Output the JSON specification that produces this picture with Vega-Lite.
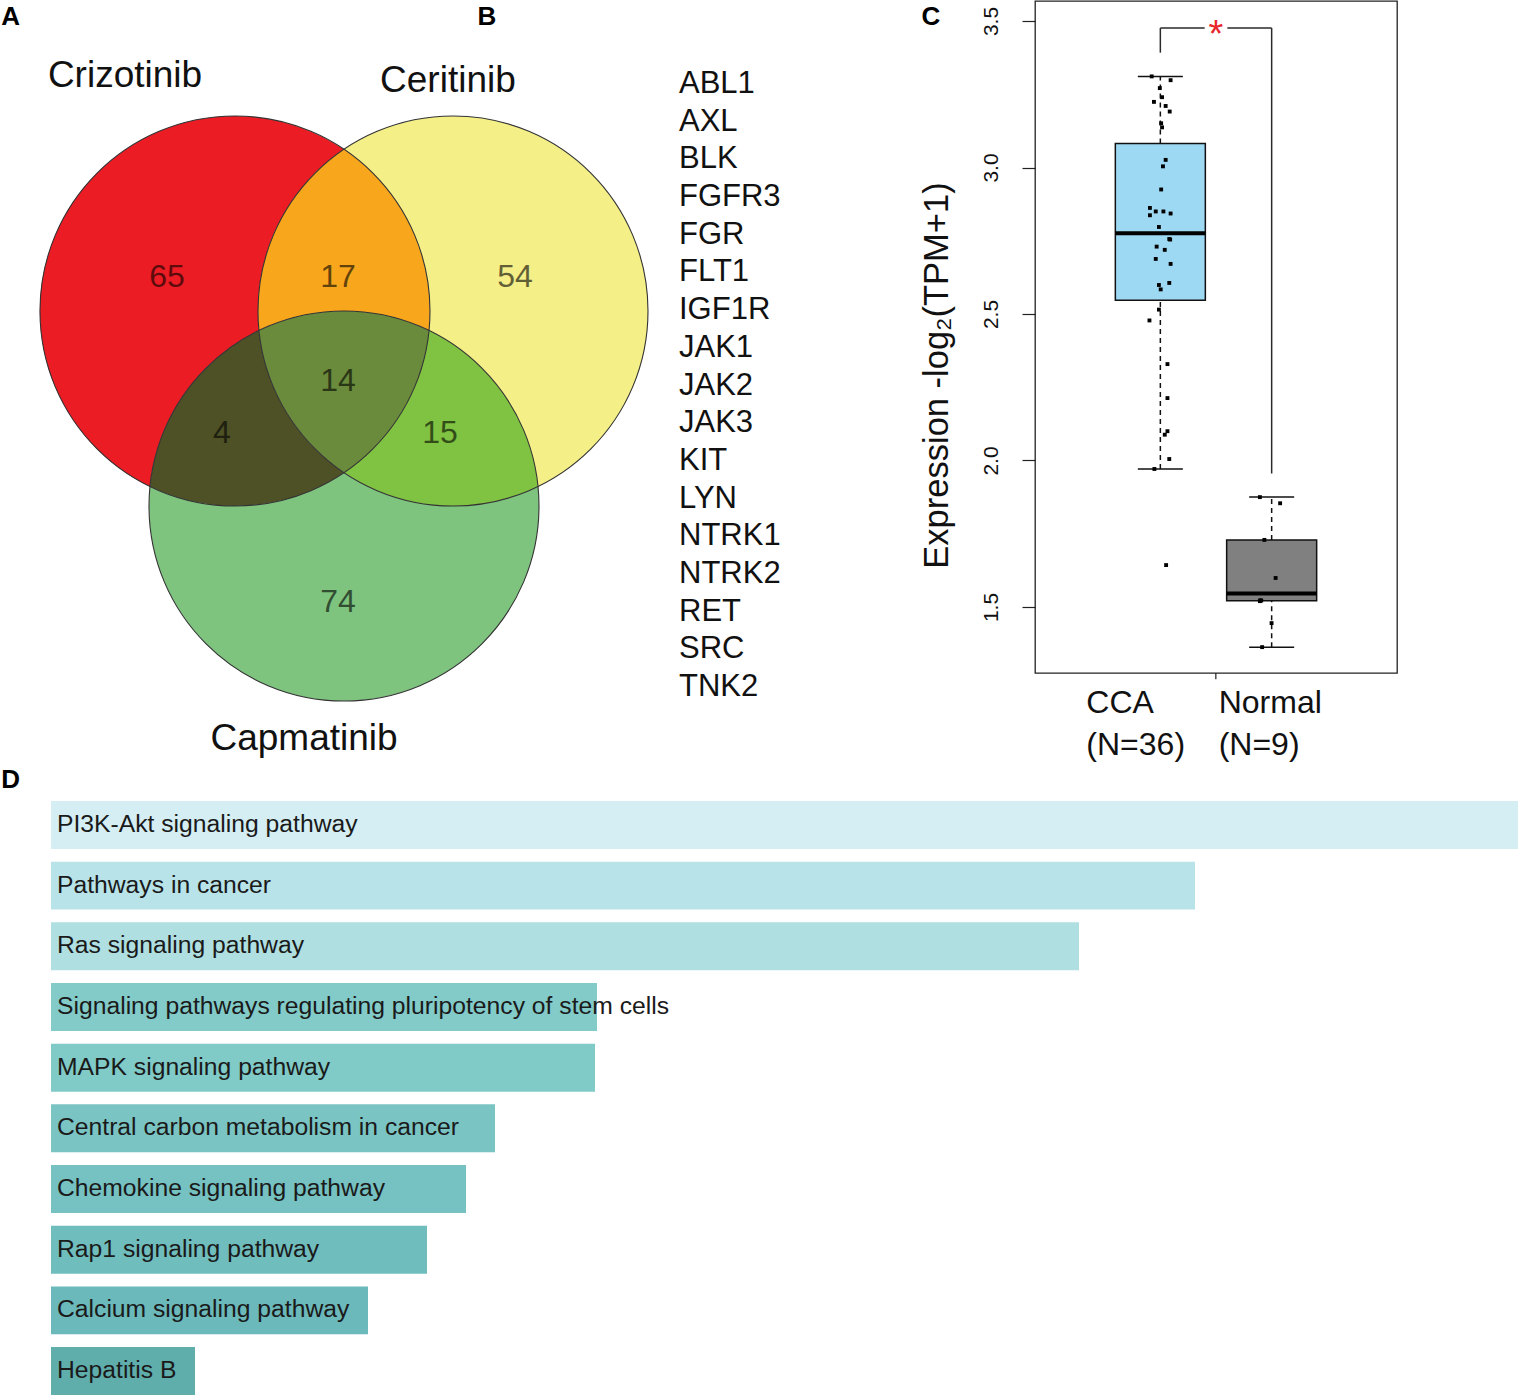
{
  "$schema": "https://vega.github.io/schema/vega-lite/v6.json",
  "background": "white",
  "padding": 0,
  "autosize": {"type": "pad"},
  "bounds": "full",
  "spacing": 7,
  "resolve": {"scale": {"color": "independent", "shape": "independent"}},
  "config": {"font": "Liberation Sans", "view": {"stroke": null}},
  "datasets": {
    "venn_regions": [
      {"region": "Crizotinib only", "count": 65, "lx": -0.908, "ly": 0.174},
      {"region": "Ceritinib only", "count": 54, "lx": 0.877, "ly": 0.174},
      {"region": "Capmatinib only", "count": 74, "lx": -0.031, "ly": -1.492},
      {"region": "Crizotinib & Ceritinib", "count": 17, "lx": -0.031, "ly": 0.174},
      {"region": "Crizotinib & Capmatinib", "count": 4, "lx": -0.626, "ly": -0.626},
      {"region": "Ceritinib & Capmatinib", "count": 15, "lx": 0.492, "ly": -0.626},
      {"region": "All three", "count": 14, "lx": -0.031, "ly": -0.359}
    ],
    "venn_sets": [
      {"set": "Crizotinib", "lx": -1.123, "ly": 1.205},
      {"set": "Ceritinib", "lx": 0.533, "ly": 1.179},
      {"set": "Capmatinib", "lx": -0.205, "ly": -2.195}
    ],
    "letters_abd": [
      {"letter": "A", "lx": -1.71, "ly": 1.4667},
      {"letter": "B", "lx": 0.733, "ly": 1.4667},
      {"letter": "D", "lx": -1.71, "ly": -2.4462}
    ],
    "letters_c": [
      {"letter": "C", "lx": 0.7079, "ly": -0.5654}
    ],
    "genes": [
      {"gene": "ABL1", "rank": 1}, {"gene": "AXL", "rank": 2}, {"gene": "BLK", "rank": 3},
      {"gene": "FGFR3", "rank": 4}, {"gene": "FGR", "rank": 5}, {"gene": "FLT1", "rank": 6},
      {"gene": "IGF1R", "rank": 7}, {"gene": "JAK1", "rank": 8}, {"gene": "JAK2", "rank": 9},
      {"gene": "JAK3", "rank": 10}, {"gene": "KIT", "rank": 11}, {"gene": "LYN", "rank": 12},
      {"gene": "NTRK1", "rank": 13}, {"gene": "NTRK2", "rank": 14}, {"gene": "RET", "rank": 15},
      {"gene": "SRC", "rank": 16}, {"gene": "TNK2", "rank": 17}
    ],
    "box_summary": [
      {"group": "CCA", "lower": 1.971, "q1": 2.547, "median": 2.776, "q3": 3.082, "upper": 3.311},
      {"group": "Normal", "lower": 1.363, "q1": 1.521, "median": 1.546, "q3": 1.729, "upper": 1.875}
    ],
    "box_points": [
      {"group": "CCA", "value": 3.311, "jitter": -0.19},
      {"group": "CCA", "value": 3.298, "jitter": 0.23},
      {"group": "CCA", "value": 3.271, "jitter": -0.01},
      {"group": "CCA", "value": 3.240, "jitter": 0.04},
      {"group": "CCA", "value": 3.224, "jitter": -0.14},
      {"group": "CCA", "value": 3.210, "jitter": 0.12},
      {"group": "CCA", "value": 3.191, "jitter": 0.21},
      {"group": "CCA", "value": 3.151, "jitter": 0.02},
      {"group": "CCA", "value": 3.137, "jitter": 0.04},
      {"group": "CCA", "value": 3.026, "jitter": 0.12},
      {"group": "CCA", "value": 3.004, "jitter": 0.06},
      {"group": "CCA", "value": 2.925, "jitter": 0.02},
      {"group": "CCA", "value": 2.862, "jitter": -0.23},
      {"group": "CCA", "value": 2.850, "jitter": -0.10},
      {"group": "CCA", "value": 2.850, "jitter": 0.07},
      {"group": "CCA", "value": 2.843, "jitter": 0.23},
      {"group": "CCA", "value": 2.837, "jitter": -0.23},
      {"group": "CCA", "value": 2.797, "jitter": -0.03},
      {"group": "CCA", "value": 2.756, "jitter": 0.20},
      {"group": "CCA", "value": 2.754, "jitter": 0.22},
      {"group": "CCA", "value": 2.730, "jitter": -0.08},
      {"group": "CCA", "value": 2.719, "jitter": 0.10},
      {"group": "CCA", "value": 2.688, "jitter": -0.10},
      {"group": "CCA", "value": 2.671, "jitter": 0.23},
      {"group": "CCA", "value": 2.606, "jitter": 0.20},
      {"group": "CCA", "value": 2.599, "jitter": -0.03},
      {"group": "CCA", "value": 2.584, "jitter": 0.01},
      {"group": "CCA", "value": 2.515, "jitter": -0.03},
      {"group": "CCA", "value": 2.478, "jitter": -0.24},
      {"group": "CCA", "value": 2.329, "jitter": 0.16},
      {"group": "CCA", "value": 2.213, "jitter": 0.16},
      {"group": "CCA", "value": 2.100, "jitter": 0.16},
      {"group": "CCA", "value": 2.088, "jitter": 0.10},
      {"group": "CCA", "value": 2.005, "jitter": 0.20},
      {"group": "CCA", "value": 1.971, "jitter": -0.13},
      {"group": "CCA", "value": 1.643, "jitter": 0.13},
      {"group": "Normal", "value": 1.875, "jitter": -0.26},
      {"group": "Normal", "value": 1.854, "jitter": 0.19},
      {"group": "Normal", "value": 1.729, "jitter": -0.16},
      {"group": "Normal", "value": 1.599, "jitter": 0.09},
      {"group": "Normal", "value": 1.522, "jitter": -0.23},
      {"group": "Normal", "value": 1.520, "jitter": -0.26},
      {"group": "Normal", "value": 1.523, "jitter": -0.25},
      {"group": "Normal", "value": 1.445, "jitter": 0.0},
      {"group": "Normal", "value": 1.363, "jitter": -0.21}
    ],
    "bracket": [
      {"from": "CCA", "to": "Normal", "top": 3.476, "fromEnd": 3.392, "toEnd": 1.956, "label": "*"}
    ],
    "pathways": [
      {"pathway": "PI3K-Akt signaling pathway", "score": 14.67},
      {"pathway": "Pathways in cancer", "score": 11.44},
      {"pathway": "Ras signaling pathway", "score": 10.28},
      {"pathway": "Signaling pathways regulating pluripotency of stem cells", "score": 5.46},
      {"pathway": "MAPK signaling pathway", "score": 5.44},
      {"pathway": "Central carbon metabolism in cancer", "score": 4.44},
      {"pathway": "Chemokine signaling pathway", "score": 4.15},
      {"pathway": "Rap1 signaling pathway", "score": 3.76},
      {"pathway": "Calcium signaling pathway", "score": 3.17},
      {"pathway": "Hepatitis B", "score": 1.44}
    ]
  },
  "vconcat": [
    {
      "bounds": "flush",
      "spacing": 0,
      "resolve": {"scale": {"color": "independent", "shape": "independent"}},
      "hconcat": [
        {
          "width": 679,
          "height": 790,
          "view": {"stroke": null},
          "resolve": {"scale": {"shape": "independent", "color": "independent"}},
          "layer": [
            {
              "data": {"name": "venn_regions"},
              "mark": {"type": "point", "filled": true, "opacity": 1, "size": 152100, "strokeWidth": 0},
              "encoding": {
                "x": {"datum": 0, "type": "quantitative", "scale": {"domain": [-1.7641, 1.718], "nice": false, "zero": false}, "axis": null},
                "y": {"datum": 0, "type": "quantitative", "scale": {"domain": [-2.4615, 1.5897], "nice": false, "zero": false}, "axis": null},
                "shape": {"field": "region", "type": "nominal", "legend": null, "scale": {
                  "domain": ["Crizotinib only", "Ceritinib only", "Capmatinib only", "Crizotinib & Ceritinib", "Crizotinib & Capmatinib", "Ceritinib & Capmatinib", "All three"],
                  "range": [
                    "M 0 -0.829 A 1 1 0 1 0 -0.995 0.9 A 1 1 0 0 1 -0.436 0.1 A 1 1 0 0 1 0 -0.829 Z",
                    "M 0 -0.829 A 1 1 0 1 1 0.995 0.9 A 1 1 0 0 0 0.436 0.1 A 1 1 0 0 0 0 -0.829 Z",
                    "M -0.995 0.9 A 1 1 0 1 0 0.995 0.9 A 1 1 0 0 1 0 0.829 A 1 1 0 0 1 -0.995 0.9 Z",
                    "M 0 -0.829 A 1 1 0 0 1 0.436 0.1 A 1 1 0 0 0 -0.436 0.1 A 1 1 0 0 1 0 -0.829 Z",
                    "M -0.995 0.9 A 1 1 0 0 1 -0.436 0.1 A 1 1 0 0 0 0 0.829 A 1 1 0 0 1 -0.995 0.9 Z",
                    "M 0.995 0.9 A 1 1 0 0 0 0.436 0.1 A 1 1 0 0 1 0 0.829 A 1 1 0 0 0 0.995 0.9 Z",
                    "M -0.436 0.1 A 1 1 0 0 1 0.436 0.1 A 1 1 0 0 1 0 0.829 A 1 1 0 0 1 -0.436 0.1 Z"
                  ]}},
                "color": {"field": "region", "type": "nominal", "legend": null, "scale": {
                  "domain": ["Crizotinib only", "Ceritinib only", "Capmatinib only", "Crizotinib & Ceritinib", "Crizotinib & Capmatinib", "Ceritinib & Capmatinib", "All three"],
                  "range": ["#ec1c24", "#f5ef88", "#7ec47f", "#f8a71c", "#4e5126", "#80c241", "#6b8b3c"]}}
              }
            },
            {
              "data": {"name": "venn_sets"},
              "mark": {"type": "point", "filled": false, "opacity": 1, "size": 152100, "stroke": "#333333", "strokeWidth": 1.1},
              "encoding": {
                "x": {"datum": 0, "type": "quantitative", "scale": {"domain": [-1.7641, 1.718], "nice": false, "zero": false}, "axis": null},
                "y": {"datum": 0, "type": "quantitative", "scale": {"domain": [-2.4615, 1.5897], "nice": false, "zero": false}, "axis": null},
                "shape": {"field": "set", "type": "nominal", "legend": null, "scale": {
                  "domain": ["Crizotinib", "Ceritinib", "Capmatinib"],
                  "range": [
                    "M -1.559 0 A 1 1 0 1 1 0.441 0 A 1 1 0 1 1 -1.559 0 Z",
                    "M -0.441 0 A 1 1 0 1 1 1.559 0 A 1 1 0 1 1 -0.441 0 Z",
                    "M -1 1 A 1 1 0 1 1 1 1 A 1 1 0 1 1 -1 1 Z"
                  ]}}
              }
            },
            {
              "data": {"name": "venn_regions"},
              "mark": {"type": "text", "fontSize": 32, "color": "#000000", "opacity": 0.6, "align": "center", "baseline": "middle"},
              "encoding": {
                "x": {"field": "lx", "type": "quantitative", "scale": {"domain": [-1.7641, 1.718], "nice": false, "zero": false}, "axis": null},
                "y": {"field": "ly", "type": "quantitative", "scale": {"domain": [-2.4615, 1.5897], "nice": false, "zero": false}, "axis": null},
                "text": {"field": "count"}
              }
            },
            {
              "data": {"name": "venn_sets"},
              "mark": {"type": "text", "fontSize": 37, "color": "#111111", "align": "center", "baseline": "middle"},
              "encoding": {
                "x": {"field": "lx", "type": "quantitative", "scale": {"domain": [-1.7641, 1.718], "nice": false, "zero": false}, "axis": null},
                "y": {"field": "ly", "type": "quantitative", "scale": {"domain": [-2.4615, 1.5897], "nice": false, "zero": false}, "axis": null},
                "text": {"field": "set"}
              }
            },
            {
              "data": {"name": "letters_abd"},
              "mark": {"type": "text", "fontSize": 26, "fontWeight": "bold", "color": "#000000", "align": "center", "baseline": "alphabetic"},
              "encoding": {
                "x": {"field": "lx", "type": "quantitative", "scale": {"domain": [-1.7641, 1.718], "nice": false, "zero": false}, "axis": null},
                "y": {"field": "ly", "type": "quantitative", "scale": {"domain": [-2.4615, 1.5897], "nice": false, "zero": false}, "axis": null},
                "text": {"field": "letter"}
              }
            }
          ]
        },
        {
          "width": 356,
          "height": 760,
          "layer": [
            {
              "data": {"name": "genes"},
              "mark": {"type": "text", "fontSize": 31, "color": "#111111", "align": "left", "baseline": "middle"},
              "encoding": {
                "x": {"datum": 0, "type": "quantitative", "scale": {"domain": [0, 1], "nice": false, "zero": false}, "axis": null},
                "y": {"field": "rank", "type": "quantitative", "scale": {"domain": [-1.2022, 18.962], "reverse": true, "nice": false, "zero": false}, "axis": null},
                "text": {"field": "gene"}
              }
            },
            {
              "data": {"name": "letters_c"},
              "mark": {"type": "text", "fontSize": 26, "fontWeight": "bold", "color": "#000000", "align": "center", "baseline": "alphabetic"},
              "encoding": {
                "x": {"field": "lx", "type": "quantitative", "scale": {"domain": [0, 1], "nice": false, "zero": false}, "axis": null},
                "y": {"field": "ly", "type": "quantitative", "scale": {"domain": [-1.2022, 18.962], "reverse": true, "nice": false, "zero": false}, "axis": null},
                "text": {"field": "letter"}
              }
            }
          ]
        },
        {
          "width": 362,
          "height": 672,
          "view": {"stroke": "#222222", "strokeWidth": 1.3},
          "layer": [
            {
              "data": {"name": "box_summary"},
              "mark": {"type": "rule", "strokeDash": [5, 4], "strokeWidth": 1.5, "color": "#111111"},
              "encoding": {
                "x": {"field": "group", "type": "nominal", "scale": {"domain": ["CCA", "Normal"], "paddingInner": 0.19, "paddingOuter": 0.721},
                  "axis": {"title": null, "ticks": false, "tickSize": 0, "domain": false, "labelFontSize": 32, "labelColor": "#111111", "labelAngle": 0,
                    "labelAlign": "left", "labelBaseline": "top", "labelPadding": 14, "labelLineHeight": 42,
                    "labelOffset": {"condition": {"test": "datum.value === 'CCA'", "value": -74}, "value": -53},
                    "labelExpr": "datum.value === 'CCA' ? ['CCA', '(N=36)'] : ['Normal', '(N=9)']"}},
                "y": {"field": "q3", "type": "quantitative", "scale": {"domain": [1.2747, 3.5683], "nice": false, "zero": false},
                  "axis": {"title": "Expression -log₂(TPM+1)", "values": [1.5, 2, 2.5, 3, 3.5], "format": ".1f", "domain": false, "grid": false,
                    "tickSize": 13, "tickColor": "#222222", "tickWidth": 1.2, "labelFontSize": 21, "labelColor": "#111111", "labelAngle": 270,
                    "labelAlign": "center", "labelBaseline": "middle", "labelPadding": 31, "labelOverlap": false,
                    "titleFontSize": 34.5, "titleFontWeight": "normal", "titleColor": "#111111", "titleAngle": 270, "titleAlign": "center",
                    "titleBaseline": "middle", "titleX": -98, "titleY": 374}},
                "y2": {"field": "upper"}
              }
            },
            {
              "data": {"name": "box_summary"},
              "mark": {"type": "rule", "strokeDash": [5, 4], "strokeWidth": 1.5, "color": "#111111"},
              "encoding": {
                "x": {"field": "group", "type": "nominal"},
                "y": {"field": "lower", "type": "quantitative", "scale": {"domain": [1.2747, 3.5683], "nice": false, "zero": false}},
                "y2": {"field": "q1"}
              }
            },
            {
              "data": {"name": "box_summary"},
              "mark": {"type": "tick", "size": 45, "thickness": 1.5, "color": "#111111", "opacity": 1},
              "encoding": {
                "x": {"field": "group", "type": "nominal"},
                "y": {"field": "upper", "type": "quantitative", "scale": {"domain": [1.2747, 3.5683], "nice": false, "zero": false}}
              }
            },
            {
              "data": {"name": "box_summary"},
              "mark": {"type": "tick", "size": 45, "thickness": 1.5, "color": "#111111", "opacity": 1},
              "encoding": {
                "x": {"field": "group", "type": "nominal"},
                "y": {"field": "lower", "type": "quantitative", "scale": {"domain": [1.2747, 3.5683], "nice": false, "zero": false}}
              }
            },
            {
              "data": {"name": "box_summary"},
              "mark": {"type": "bar", "stroke": "#111111", "strokeWidth": 1.5, "opacity": 1, "width": 90},
              "encoding": {
                "x": {"field": "group", "type": "nominal"},
                "y": {"field": "q1", "type": "quantitative", "scale": {"domain": [1.2747, 3.5683], "nice": false, "zero": false}},
                "y2": {"field": "q3"},
                "color": {"field": "group", "type": "nominal", "legend": null, "scale": {"domain": ["CCA", "Normal"], "range": ["#9ed9f3", "#808080"]}}
              }
            },
            {
              "data": {"name": "box_summary"},
              "mark": {"type": "tick", "size": 90, "thickness": 4, "color": "#000000", "opacity": 1},
              "encoding": {
                "x": {"field": "group", "type": "nominal"},
                "y": {"field": "median", "type": "quantitative", "scale": {"domain": [1.2747, 3.5683], "nice": false, "zero": false}}
              }
            },
            {
              "data": {"name": "box_points"},
              "mark": {"type": "point", "shape": "square", "filled": true, "size": 15, "color": "#000000", "opacity": 1},
              "encoding": {
                "x": {"field": "group", "type": "nominal"},
                "xOffset": {"field": "jitter", "type": "quantitative", "scale": {"domain": [-1, 1], "range": [0, 90]}},
                "y": {"field": "value", "type": "quantitative", "scale": {"domain": [1.2747, 3.5683], "nice": false, "zero": false}}
              }
            },
            {
              "data": {"name": "bracket"},
              "mark": {"type": "rule", "strokeWidth": 1.5, "color": "#2a2a2a"},
              "encoding": {
                "x": {"field": "from", "type": "nominal"},
                "y": {"field": "fromEnd", "type": "quantitative", "scale": {"domain": [1.2747, 3.5683], "nice": false, "zero": false}},
                "y2": {"field": "top"}
              }
            },
            {
              "data": {"name": "bracket"},
              "mark": {"type": "rule", "strokeWidth": 1.5, "color": "#2a2a2a"},
              "encoding": {
                "x": {"field": "to", "type": "nominal"},
                "y": {"field": "toEnd", "type": "quantitative", "scale": {"domain": [1.2747, 3.5683], "nice": false, "zero": false}},
                "y2": {"field": "top"}
              }
            },
            {
              "data": {"name": "bracket"},
              "mark": {"type": "rule", "strokeWidth": 1.5, "color": "#2a2a2a", "x2Offset": -67},
              "encoding": {
                "x": {"field": "from", "type": "nominal"},
                "x2": {"field": "to"},
                "y": {"field": "top", "type": "quantitative", "scale": {"domain": [1.2747, 3.5683], "nice": false, "zero": false}}
              }
            },
            {
              "data": {"name": "bracket"},
              "mark": {"type": "rule", "strokeWidth": 1.5, "color": "#2a2a2a", "xOffset": 67},
              "encoding": {
                "x": {"field": "from", "type": "nominal"},
                "x2": {"field": "to"},
                "y": {"field": "top", "type": "quantitative", "scale": {"domain": [1.2747, 3.5683], "nice": false, "zero": false}}
              }
            },
            {
              "data": {"name": "bracket"},
              "mark": {"type": "rule", "strokeWidth": 1.2, "color": "#222222", "xOffset": 55.5},
              "encoding": {
                "x": {"field": "from", "type": "nominal"},
                "y": {"datum": 1.2747, "type": "quantitative", "scale": {"domain": [1.2747, 3.5683], "nice": false, "zero": false}},
                "y2": {"datum": 1.2537}
              }
            },
            {
              "data": {"name": "bracket"},
              "mark": {"type": "text", "fontSize": 38, "color": "#e8262b", "align": "center", "baseline": "middle", "dx": 55.5, "dy": 8},
              "encoding": {
                "x": {"field": "from", "type": "nominal"},
                "y": {"field": "top", "type": "quantitative", "scale": {"domain": [1.2747, 3.5683], "nice": false, "zero": false}},
                "text": {"field": "label"}
              }
            }
          ]
        }
      ]
    },
    {
      "width": 1519,
      "height": 594,
      "data": {"name": "pathways"},
      "encoding": {
        "y": {"field": "pathway", "type": "nominal", "sort": null, "scale": {"paddingInner": 0.21, "paddingOuter": 0}, "axis": null}
      },
      "layer": [
        {
          "mark": {"type": "bar", "opacity": 1},
          "encoding": {
            "x": {"field": "score", "type": "quantitative", "scale": {"domain": [-0.51, 14.68], "nice": false}, "axis": null},
            "color": {"field": "pathway", "type": "nominal", "sort": null, "legend": null, "scale": {
              "domain": ["PI3K-Akt signaling pathway", "Pathways in cancer", "Ras signaling pathway", "Signaling pathways regulating pluripotency of stem cells", "MAPK signaling pathway", "Central carbon metabolism in cancer", "Chemokine signaling pathway", "Rap1 signaling pathway", "Calcium signaling pathway", "Hepatitis B"],
              "range": ["#d4eef4", "#b8e3e8", "#afdfe1", "#82cbc9", "#80cac7", "#7ac4c3", "#76c1c1", "#70bdbd", "#6bb9ba", "#5faeac"]}}
          }
        },
        {
          "mark": {"type": "text", "align": "left", "baseline": "middle", "dx": 6, "fontSize": 24.7, "color": "#1a1a1a"},
          "encoding": {
            "x": {"datum": 0, "type": "quantitative"},
            "text": {"field": "pathway"}
          }
        }
      ]
    }
  ]
}
